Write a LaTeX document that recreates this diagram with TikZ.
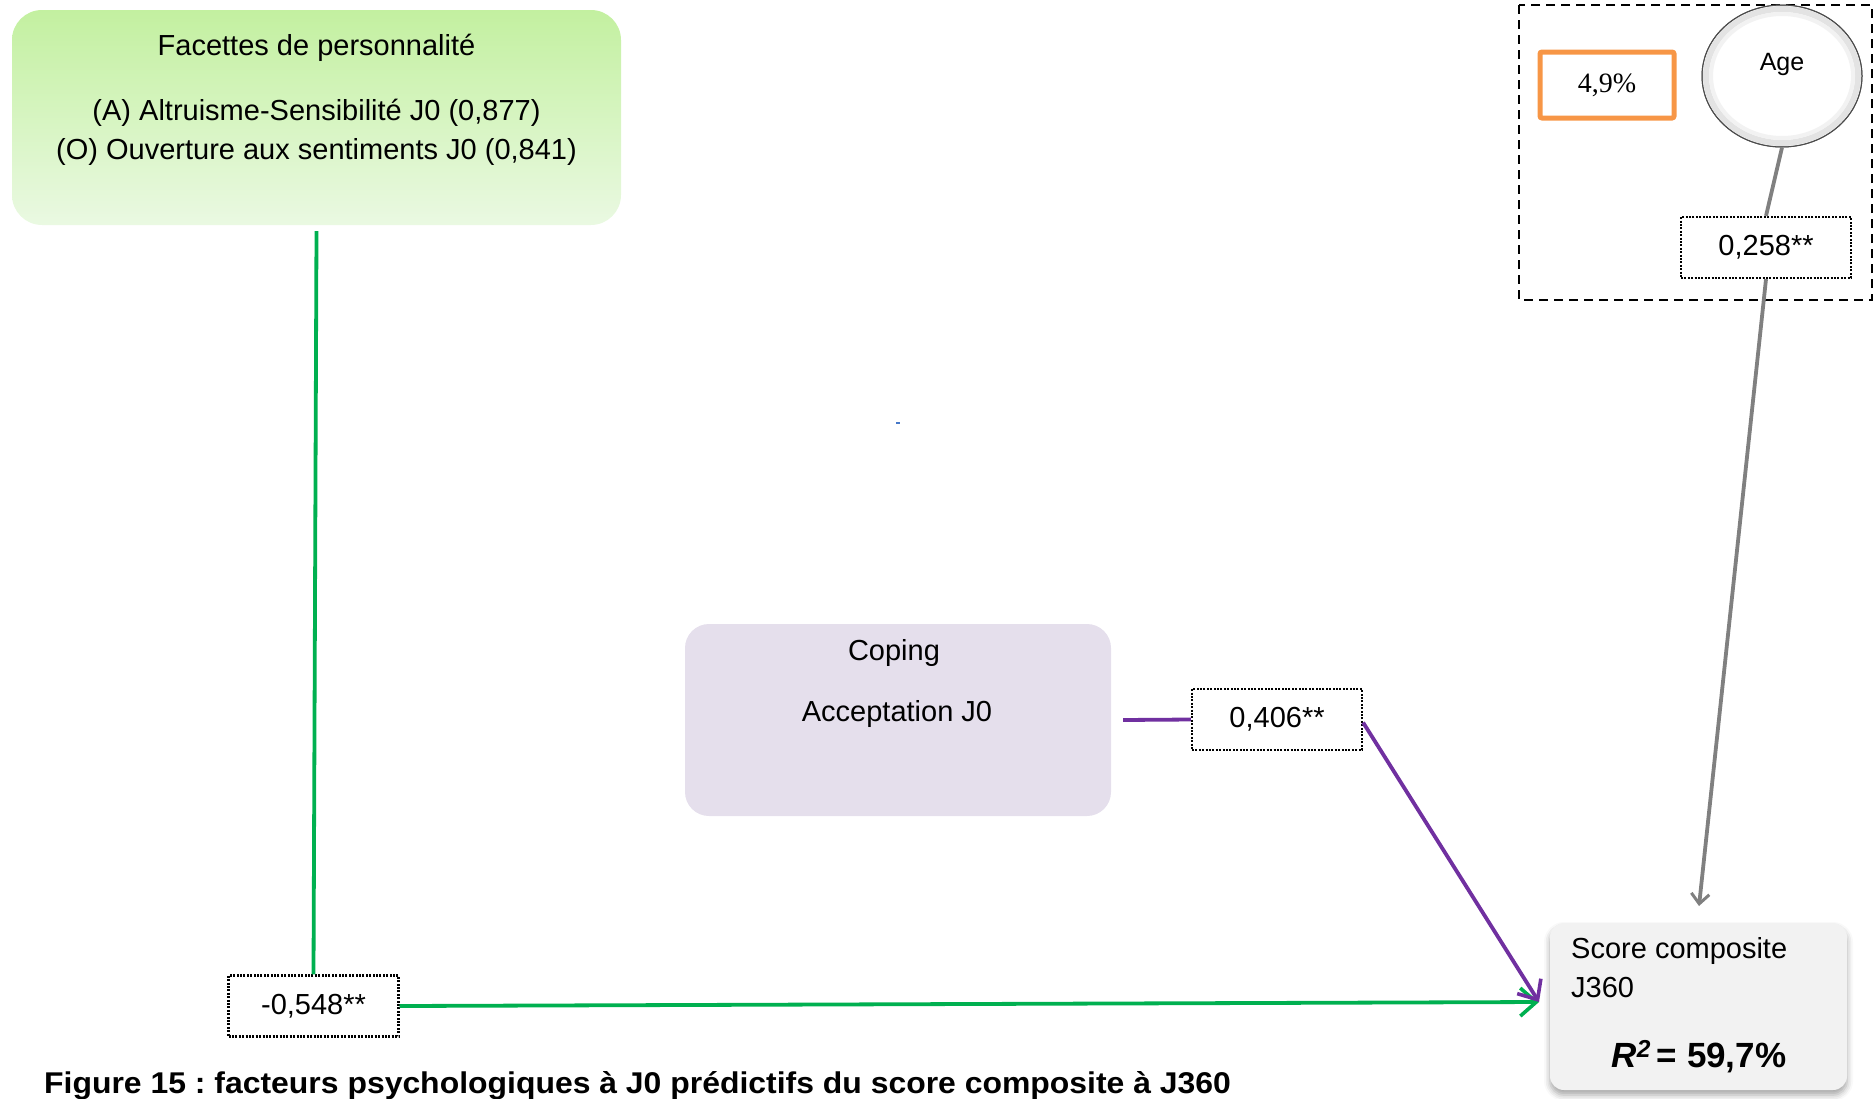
\documentclass[tikz,border=0pt]{standalone}
\usepackage{fontspec}
\setmainfont{Liberation Sans}
\newfontfamily\tnr{Liberation Serif}
\usetikzlibrary{arrows.meta,shapes.geometric,shadows.blur}
\frenchspacing
\definecolor{cgreen}{RGB}{0,176,80}
\definecolor{cpurple}{RGB}{112,48,160}
\definecolor{cgray}{RGB}{128,128,128}
\definecolor{corange}{RGB}{247,150,70}
\definecolor{gtop}{RGB}{195,240,160}
\definecolor{gbot}{RGB}{234,249,226}
\definecolor{lav}{RGB}{229,223,236}
\definecolor{sbox}{RGB}{242,242,242}
\definecolor{dotblue}{RGB}{70,120,200}
\begin{document}
\begin{tikzpicture}[x=1pt,y=-1pt,
  txt/.style={font=\fontsize{29}{39}\selectfont, inner sep=0pt},
  coef/.style={draw=black, line width=2.2pt, dash pattern=on 2pt off 1.4pt,
    minimum width=170pt, minimum height=61pt, inner sep=0pt,
    font=\fontsize{29}{39}\selectfont, fill=white},
  conn/.style={line width=3.8pt},
  tipg/.style={-{Straight Barb[length=16pt,width=28pt,line width=3.6pt]}},
  tipk/.style={-{Straight Barb[length=10pt,width=18pt,line width=3pt]}}
]
\useasboundingbox (0,0) rectangle (1874,1098);

% green box
\node[rounded corners=30pt, top color=gtop, bottom color=gbot, draw=none,
  minimum width=609pt, minimum height=215pt, inner sep=0pt] (fac) at (316.5,117.5) {};
\node[txt, anchor=base] (fac1) at (316.5,55) {Facettes de personnalité};
\node[txt, anchor=base] (fac2) at (316.5,120) {(A) Altruisme-Sensibilité J0 (0,877)};
\node[txt, anchor=base] (fac3) at (316.5,159) {(O) Ouverture aux sentiments J0 (0,841)};

% coping box
\node[rounded corners=24pt, fill=lav, draw=none,
  minimum width=426pt, minimum height=192pt, inner sep=0pt] (cop) at (898,720) {};
\node[txt, anchor=base] (cop1) at (894,660) {Coping};
\node[txt, anchor=base] (cop2) at (897,721) {Acceptation J0};

% score box
\node[rounded corners=14pt, fill=sbox, draw=none,
  blur shadow={shadow xshift=0pt, shadow yshift=-5pt, shadow blur radius=6pt, shadow opacity=35},
  minimum width=297pt, minimum height=167pt, inner sep=0pt] (score) at (1698.5,1006.5) {};
\node[txt, anchor=base west] (sc1) at (1571,958) {Score composite};
\node[txt, anchor=base west] (sc2) at (1571,997) {J360};
\node[inner sep=0pt, anchor=base, font=\fontsize{35}{40}\selectfont\bfseries] (sc3) at (1699,1067)
  {\textit{R}\textsuperscript{\textit{2}}\,= 59,7\%};

% age group
\draw[line width=2pt, dash pattern=on 9pt off 6pt] (1519,5) rectangle (1872,300);
\node[draw=corange, line width=5pt, rounded corners=2pt, minimum width=134pt, minimum height=66pt,
  inner sep=0pt, font=\fontsize{28}{34}\selectfont\tnr] (pct) at (1607,85) {4,9\%};
\node[ellipse, minimum width=160pt, minimum height=142pt, inner sep=0pt, fill=white,
  draw=gray!70!black, line width=1pt] (age) at (1782,76) {};
\draw[gray!22, line width=6pt] (1782,76) ellipse [x radius=76, y radius=67];
\draw[gray!10, line width=4pt] (1782,76) ellipse [x radius=71, y radius=62];
\draw[gray!60!black, line width=1pt] (age.center) ellipse [x radius=80, y radius=71];
\node[inner sep=0pt, anchor=base, font=\fontsize{25}{30}\selectfont] (agetxt) at (1782,70) {Age};

% coefficient boxes
\node[coef] (b258) at (1766,247.5) {0,258**};
\node[coef] (b406) at (1277,719.5) {0,406**};
\node[coef] (b548) at (313.5,1006) {-0,548**};

% tips
\coordinate (tipS) at (1539,1002);
\coordinate (tipA) at (1699,906);

% connectors
\draw[conn, cgreen] ([yshift=-6pt]fac.south) -- (b548.north);
\draw[conn, cgreen, tipg] (b548.east) -- (tipS);
\draw[conn, cpurple] ([xshift=12pt]cop.east) -- (b406.west);
\draw[conn, cpurple, tipg] ([yshift=-3pt]b406.east) -- (tipS);
\draw[conn, cgray] (age.south) -- (b258.north);
\draw[conn, cgray, tipk] (b258.south) -- (tipA);

% stray dot
\fill[dotblue] (896,422) rectangle (900,424);

% caption
\node[inner sep=0pt, anchor=base west, font=\fontsize{30}{34}\selectfont\bfseries] (cap) at (44,1093)
  {\scalebox{1.064}[1]{Figure 15 : facteurs psychologiques à J0 prédictifs du score composite à J360}};
\end{tikzpicture}
\end{document}
